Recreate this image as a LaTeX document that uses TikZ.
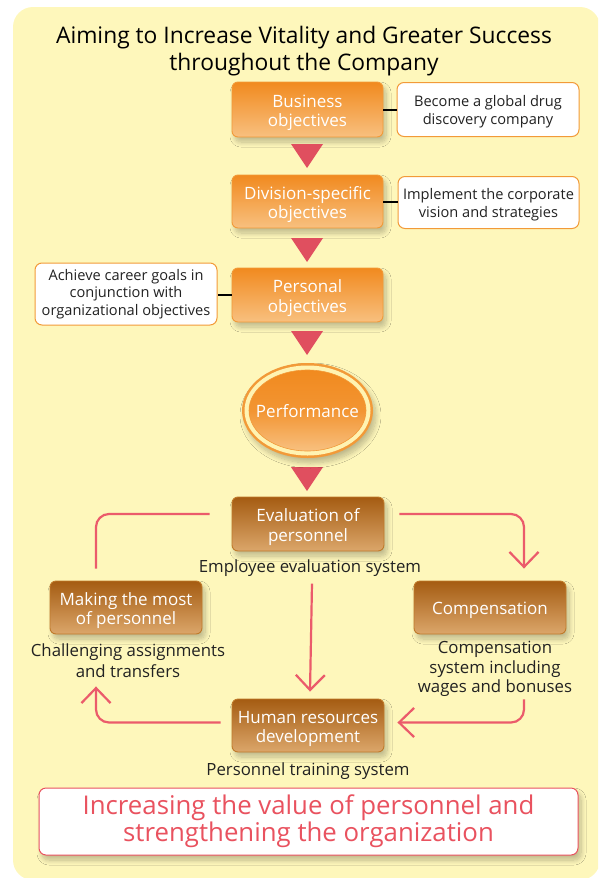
\documentclass[tikz,border=0pt]{standalone}
\usepackage{fontspec}
\setmainfont{Open Sans}
\usetikzlibrary{shapes.geometric,shadows.blur,arrows.meta}
\definecolor{bgyellow}{HTML}{FEF7BB}
\definecolor{objtop}{HTML}{F18A1F}
\definecolor{objbot}{HTML}{F8C07F}
\definecolor{objborder}{HTML}{F29A38}
\definecolor{brtop}{HTML}{A55C12}
\definecolor{brbot}{HTML}{DBA66A}
\definecolor{brborder}{HTML}{C07A2A}
\definecolor{redline}{HTML}{EB5B6B}
\definecolor{trired}{HTML}{E04F5F}
\definecolor{textred}{HTML}{E9525F}
\definecolor{ringyellow}{HTML}{FFF3B2}
\definecolor{darktext}{HTML}{222222}
\tikzset{
  softshadow/.style={blur shadow={shadow xshift=3pt,shadow yshift=-5pt,shadow blur steps=10,shadow opacity=25,shadow blur radius=5pt}},
  lower/.style={execute at begin node={\rule{0pt}{#1}}},
  objbox/.style={rounded corners=6pt, minimum width=151pt, minimum height=54pt, top color=objtop, bottom color=objbot, draw=objborder, line width=0.9pt, text=white, align=center, font=\fontsize{17}{19.5}\selectfont, inner sep=0pt, softshadow},
  brbox/.style={rounded corners=6pt, minimum width=152pt, minimum height=53pt, top color=brtop, bottom color=brbot, draw=brborder, line width=0.9pt, text=white, align=center, font=\fontsize{17}{19.5}\selectfont, inner sep=0pt, softshadow},
  goalbox/.style={rounded corners=7pt, fill=white, draw=objborder, line width=1pt, text=darktext, align=center, font=\fontsize{14.6}{18}\selectfont, inner sep=0pt},
  conn/.style={line width=2pt, black},
  cyc/.style={draw=redline, line width=2.2pt, rounded corners=13pt},
  cyca/.style={cyc, -{Straight Barb[length=15pt,width=29pt,line width=2.2pt]}},
  lbl/.style={text=darktext, align=center, font=\fontsize{16.8}{21}\selectfont, inner sep=0pt},
  trishape/.style={fill=trired},
}
\newcommand\dtri[1]{\fill[trishape] (291,#1) -- (323,#1) -- (307,{#1+24}) -- cycle;}
\begin{document}
\begin{tikzpicture}[x=1pt,y=-1pt]
\useasboundingbox (0,0) rectangle (598,878);
\clip (0,0) rectangle (598,878);
\fill[bgyellow, rounded corners=20pt] (13,7) rectangle (600,880);

% title
\node[text=black, align=center, font=\fontsize{22.8}{27}\selectfont, inner sep=0pt] (title) at (304,51) {Aiming to Increase Vitality and Greater Success\\throughout the Company};

% objectives column
\node[objbox, minimum height=55pt, lower=38.5pt] (biz) at (307.5,109.5) {Business\\objectives};
\node[objbox, minimum height=53pt, lower=38.5pt] (div) at (307.5,201.5) {Division-specific\\objectives};
\node[objbox, lower=38.5pt] (pers) at (307.5,295) {Personal\\objectives};

\node[goalbox, minimum width=182pt, minimum height=54pt, lower=33pt] (g1) at (488,109.5) {Become a global drug\\discovery company};
\node[goalbox, minimum width=181pt, minimum height=52pt, lower=33pt] (g2) at (488.5,202.5) {Implement the corporate\\vision and strategies};
\node[goalbox, minimum width=182pt, minimum height=62pt, font=\fontsize{14.6}{17.5}\selectfont] (g3) at (126,294) {Achieve career goals in\\conjunction with\\organizational objectives};

\draw[conn] (biz.east) -- (biz.east -| g1.west);
\draw[conn] (div.east) -- (div.east -| g2.west);
\draw[conn] (pers.west) -- (pers.west -| g3.east);

\dtri{144}
\dtri{238}
\dtri{331}
\dtri{467}

% performance
\fill[objborder, softshadow] (307.5,410.5) ellipse [x radius=65.5, y radius=47.5];
\fill[ringyellow] (307.5,410.5) ellipse [x radius=63, y radius=45];
\path[top color=objtop, bottom color=objbot, middle color=objtop!80!objbot, draw=objborder, line width=0.6pt] (307.5,410.5) ellipse [x radius=58.5, y radius=40.5];
\node[inner sep=0pt, text=white, font=\fontsize{17}{20}\selectfont] (perf) at (307.5,411) {Performance};

% cycle
\node[brbox, minimum height=54pt, lower=38.5pt] (eval) at (308,524) {Evaluation of\\personnel};
\node[brbox, lower=38.5pt] (make) at (126,607.5) {Making the most\\of personnel};
\node[brbox, lower=18pt] (comp) at (490,607.5) {Compensation};
\node[brbox, lower=38.5pt] (hrd) at (308,725.5) {Human resources\\development};

\node[lbl] (evall) at (310,568) {Employee evaluation system};
\node[lbl] (makel) at (128,661) {Challenging assignments\\and transfers};
\node[lbl, font=\fontsize{16.8}{19.5}\selectfont] (compl) at (495,669) {Compensation\\system including\\wages and bonuses};
\node[lbl] (hrdl) at (308,771) {Personnel training system};

\draw[cyca] ([xshift=15pt,yshift=10pt]eval.east) -| ([xshift=34pt,yshift=12pt]comp.north);
\draw[cyc] ([xshift=-22pt,yshift=10pt]eval.west) -| ([xshift=-30pt,yshift=12pt]make.north);
\draw[cyca] ([xshift=2pt,yshift=-7pt]evall.south) -- ([xshift=2pt,yshift=7pt]hrd.north);
\draw[cyca] ([xshift=34pt,yshift=-65pt]comp.south) |- ([xshift=13pt,yshift=3pt]hrd.east);
\draw[cyca] ([xshift=-11pt,yshift=3pt]hrd.west) -| ([xshift=-30pt,yshift=-52pt]make.south);

% result
\node[rounded corners=7pt, fill=white, draw=textred, line width=1pt, minimum width=539pt, minimum height=67pt, text=textred, align=center, font=\fontsize{25.8}{27}\selectfont, inner sep=0pt, softshadow] (result) at (308.5,821.5) {Increasing the value of personnel and\\strengthening the organization};
\end{tikzpicture}
\end{document}
